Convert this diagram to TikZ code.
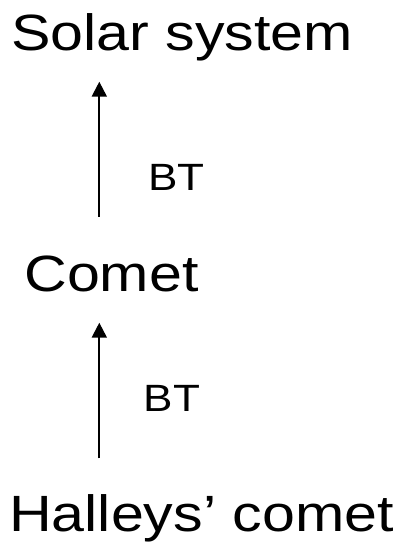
\documentclass[tikz,border=0pt]{standalone}
\usepackage{fontspec}
\setmainfont{Liberation Sans}
\usetikzlibrary{arrows.meta}
\begin{document}
\begin{tikzpicture}[x=1pt,y=1pt,
  label/.style={inner sep=0pt, anchor=base, font=\fontsize{51}{51}\selectfont},
  rel/.style={inner sep=0pt, anchor=base, font=\fontsize{38}{38}\selectfont},
  link/.style={line width=2pt, -{Triangle[width=15pt,length=15pt]}}]
  \useasboundingbox (0,0) rectangle (402,-550);
  % levels of the hierarchy
  \node[label] (solar) at (182,-50) {\scalebox{1.16}[1]{Solar system}};
  \node[label] (comet) at (111.5,-291.7) {\scalebox{1.16}[1]{Comet}};
  \node[label] (halley) at (201.5,-531.7) {\scalebox{1.16}[1]{Halleys’ comet}};
  % relation labels
  \node[rel] (bt1) at (176.7,-190.7) {\scalebox{1.16}[1]{BT}};
  \node[rel] (bt2) at (172,-411.7) {\scalebox{1.16}[1]{BT}};
  % arrow end points
  \coordinate (a1from) at (99.3,-216.7);
  \coordinate (a1to) at (99.3,-81.7);
  \coordinate (a2from) at (99.3,-458.3);
  \coordinate (a2to) at (99.3,-322.7);
  \draw[link] (a1from) -- (a1to);
  \draw[link] (a2from) -- (a2to);
\end{tikzpicture}
\end{document}
